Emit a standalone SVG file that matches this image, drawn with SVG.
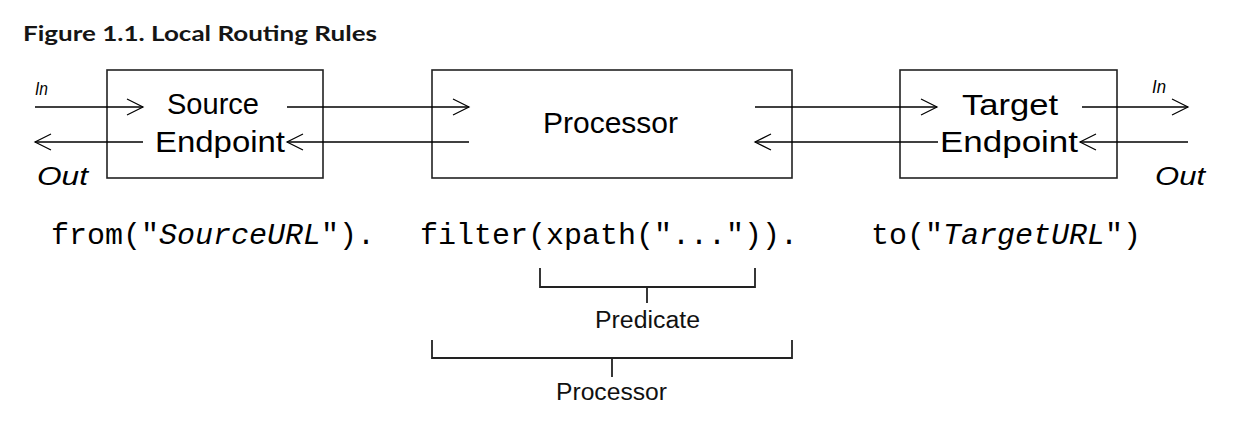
<svg xmlns="http://www.w3.org/2000/svg" width="1237" height="421" viewBox="0 0 1237 421">
<style>
.box{fill:#fff;stroke:#222;stroke-width:1.6}
.lbl{font-family:"Liberation Sans",Arial,sans-serif;font-size:29px;fill:#000}
.it{font-family:"Liberation Sans",Arial,sans-serif;font-style:italic;fill:#000}
.code{font-family:"Liberation Mono","Courier New",monospace;font-size:30px;fill:#000}
.conn{stroke:#000;stroke-width:1.5;fill:none;marker-end:url(#chev)}
.br{stroke:#222;stroke-width:1.8;fill:none}
.small{font-family:"Liberation Sans",Arial,sans-serif;font-size:23px;fill:#111}
</style>
<defs>
<marker id="chev" viewBox="-18 -10 20 20" refX="0" refY="0" markerWidth="20" markerHeight="20" markerUnits="userSpaceOnUse" orient="auto">
<path d="M-16,-8 L0,0 L-16,8" fill="none" stroke="#000" stroke-width="1.2"/>
</marker>
</defs>
<rect width="1237" height="421" fill="#fff"/>
<text x="23" y="41" font-family="Lato,'Open Sans',sans-serif" font-weight="700" font-size="21" fill="#151515" textLength="354" lengthAdjust="spacingAndGlyphs">Figure 1.1. Local Routing Rules</text>
<g id="source">
<rect class="box" x="107" y="70" width="216" height="108"/>
<text class="lbl" x="167" y="114" textLength="92" lengthAdjust="spacingAndGlyphs">Source</text>
<text class="lbl" x="155" y="152" textLength="130" lengthAdjust="spacingAndGlyphs">Endpoint</text>
</g>
<g id="processor">
<rect class="box" x="432" y="70" width="360" height="108"/>
<text class="lbl" x="543" y="133" textLength="135" lengthAdjust="spacingAndGlyphs">Processor</text>
</g>
<g id="target">
<rect class="box" x="900" y="70" width="217" height="108"/>
<text class="lbl" x="962" y="115" textLength="96" lengthAdjust="spacingAndGlyphs">Target</text>
<text class="lbl" x="940" y="152" textLength="138" lengthAdjust="spacingAndGlyphs">Endpoint</text>
</g>
<g id="connectors">
<line class="conn" x1="35" y1="107" x2="143" y2="107"/>
<line class="conn" x1="143" y1="142" x2="35" y2="142"/>
<line class="conn" x1="287" y1="107" x2="469" y2="107"/>
<line class="conn" x1="469" y1="142" x2="287" y2="142"/>
<line class="conn" x1="755" y1="107" x2="937" y2="107"/>
<line class="conn" x1="938" y1="142" x2="755" y2="142"/>
<line class="conn" x1="1082" y1="107" x2="1188" y2="107"/>
<line class="conn" x1="1188" y1="142" x2="1080" y2="142"/>
</g>
<g id="io-labels">
<text class="it" x="35" y="95" font-size="18" textLength="13" lengthAdjust="spacingAndGlyphs">In</text>
<text class="it" x="37" y="185" font-size="25" textLength="51" lengthAdjust="spacingAndGlyphs">Out</text>
<text class="it" x="1152" y="93" font-size="18" textLength="14" lengthAdjust="spacingAndGlyphs">In</text>
<text class="it" x="1155" y="185" font-size="25" textLength="50" lengthAdjust="spacingAndGlyphs">Out</text>
</g>
<g id="code">
<text class="code" x="51" y="244">from("<tspan font-style="italic">SourceURL</tspan>").</text>
<text class="code" x="420" y="244">filter(xpath("...")).</text>
<text class="code" x="871" y="244">to("<tspan font-style="italic">TargetURL</tspan>")</text>
</g>
<g id="predicate-bracket">
<path class="br" d="M540,268 V287 H755 V268 M647,287 V303"/>
<text class="small" x="595" y="328" textLength="105" lengthAdjust="spacingAndGlyphs">Predicate</text>
</g>
<g id="processor-bracket">
<path class="br" d="M432,340 V358 H792 V340 M612,358 V377"/>
<text class="small" x="556" y="400" textLength="111" lengthAdjust="spacingAndGlyphs">Processor</text>
</g>
</svg>
